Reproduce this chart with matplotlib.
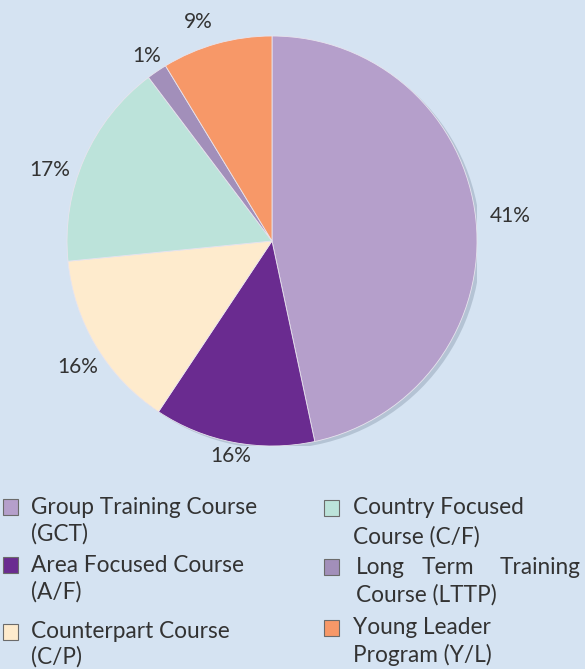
import numpy as np
import matplotlib.pyplot as plt
from matplotlib.patches import Circle, Rectangle

# wedge shares as drawn in the picture, and the printed percentage labels
categories = ['GCT', 'A/F', 'C/P', 'C/F', 'LTTP', 'Y/L']
shares = [46.7, 12.7, 14.1, 16.3, 1.6, 8.7]
pct_labels = ['41%', '16%', '16%', '17%', '1%', '9%']
legend_names = [
    ['Group Training Course', '(GCT)'],
    ['Area Focused Course', '(A/F)'],
    ['Counterpart Course', '(C/P)'],
    ['Country Focused', 'Course (C/F)'],
    ['Long Term Training', 'Course (LTTP)'],
    ['Young Leader', 'Program (Y/L)'],
]
colors = ['#b59fcb', '#6a2b90', '#feebcd', '#bce3da', '#a28fba', '#f79868']

BG = '#d5e3f2'
TXT = '#333333'
plt.rcParams['font.family'] = ['Lato', 'DejaVu Sans']

W, H = 585, 669
fig = plt.figure(figsize=(W / 100, H / 100), dpi=100, facecolor=BG)

# pie axes: centre ~ (272, 241) px, radius ~205 px
cx, cy, r = 272, 241, 205
ax = fig.add_axes([(cx - r) / W, 1 - (cy + r) / H, 2 * r / W, 2 * r / H])
ax.set_facecolor(BG)
ax.add_patch(Circle((0.018, -0.014), 1.0, color='#8d9db0', alpha=0.45, zorder=0, lw=0))
wedges, _ = ax.pie(shares, colors=colors, startangle=90, counterclock=False,
                   wedgeprops=dict(edgecolor='#e8e4ee', linewidth=0.6))
ax.set_xlim(-1, 1)
ax.set_ylim(-1, 1)
ax.axis('off')

label_dist = [1.17, 1.07, 1.13, 1.14, 1.09, 1.13]
label_shift = [0, 0, 2, 6, 0, 3]  # degrees
for w, txt, d, s in zip(wedges, pct_labels, label_dist, label_shift):
    ang = np.deg2rad((w.theta1 + w.theta2) / 2 + s)
    ax.text(d * np.cos(ang), d * np.sin(ang), txt, ha='center', va='center',
            fontsize=15, color=TXT, clip_on=False)

# legend, drawn in figure pixel coordinates
lax = fig.add_axes([0, 0, 1, 1], facecolor='none')
lax.set_xlim(0, W)
lax.set_ylim(H, 0)
lax.axis('off')

box_x = [3, 3, 3, 324, 324, 324]
text_x = [31, 31, 31, 353, 353, 353]
row_y = [507, 565, 632, 508, 567, 628]
line_gap = [27, 27, 25, 29, 28, 27]
fs = 16.3
for i in range(6):
    lax.add_patch(Rectangle((box_x[i], row_y[i] - 8), 15, 16, facecolor=colors[i],
                            edgecolor='#6b6b6b', linewidth=0.8))
    first, second = legend_names[i]
    if categories[i] == 'LTTP':
        words = first.split()
        lax.text(356, row_y[i], words[0], ha='left', va='center', fontsize=fs, color=TXT)
        lax.text(448, row_y[i], words[1], ha='center', va='center', fontsize=fs, color=TXT)
        lax.text(580, row_y[i], words[2], ha='right', va='center', fontsize=fs, color=TXT)
        tx = 356
    else:
        lax.text(text_x[i], row_y[i], first, ha='left', va='center', fontsize=fs, color=TXT)
        tx = text_x[i]
    lax.text(tx, row_y[i] + line_gap[i], second, ha='left', va='center', fontsize=fs, color=TXT)

fig.savefig('out.png', dpi=100, facecolor=BG)
